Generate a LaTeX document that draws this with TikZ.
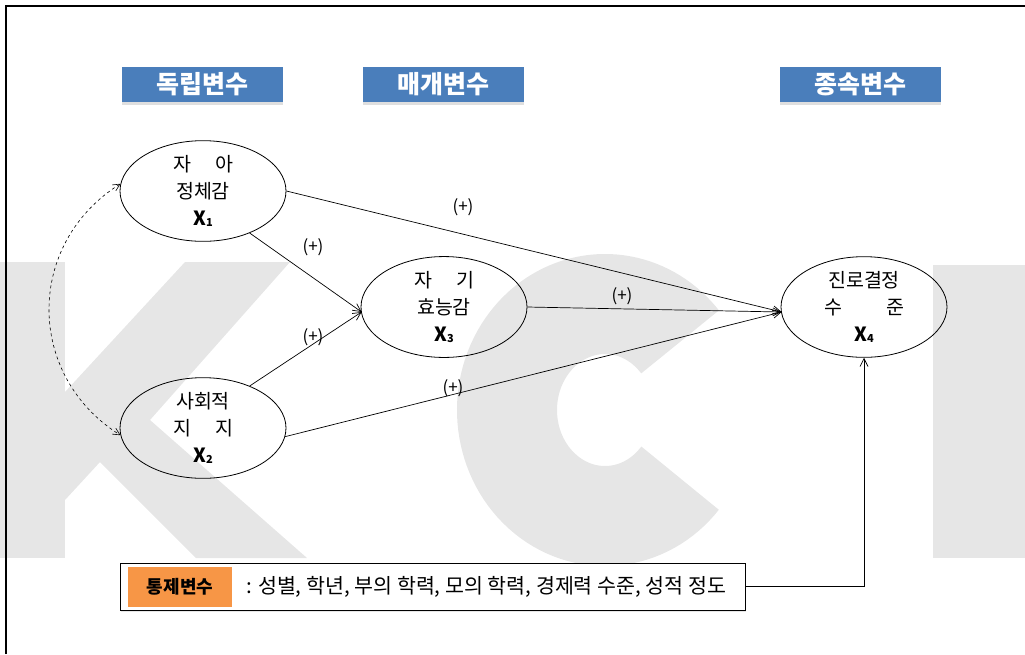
\documentclass[tikz,border=0pt]{standalone}
\usepackage{fontspec}
\setmainfont{Noto Sans CJK KR}
\usetikzlibrary{shapes.geometric,arrows.meta,shadows}
\definecolor{hdrblue}{RGB}{74,126,187}
\definecolor{ctrlorange}{RGB}{247,150,70}
\definecolor{wmgray}{RGB}{230,230,230}
\newcommand\Xn[1]{\textbf{X}\raisebox{-0.1ex}{\fontsize{11}{11}\selectfont\textbf{#1}}}
\begin{document}
\begin{tikzpicture}[x=1pt,y=-1pt,
  hdr/.style={fill=hdrblue, text=white, font=\bfseries\fontsize{25}{28}\selectfont,
    minimum width=161pt, minimum height=35pt, inner sep=0pt,
    drop shadow={opacity=0.25,shadow xshift=0pt,shadow yshift=-3pt}},
  var/.style={ellipse, draw, line width=0.8pt, minimum width=166pt, minimum height=92pt,
    inner sep=0pt, align=center, font=\fontsize{19.5}{27}\selectfont},
  arr/.style={line width=0.7pt, -{Straight Barb[length=8pt,width=8pt]}},
  sign/.style={font=\fontsize{17}{19}\selectfont, inner sep=1pt}]
\useasboundingbox (0,0) rectangle (1025,654);
% watermark
\begin{scope}
\clip (0,0) rectangle (1025,654);
\fill[wmgray] (-5,262) rectangle (65,558);
\fill[wmgray] (65,392) -- (185,262) -- (290,262) -- (150,420) -- (307,558) -- (196,558) -- (100,462) -- (65,500) -- cycle;
\draw[wmgray, line width=100pt] (605,410) ++(40:98 and 106) arc[start angle=40, end angle=320, x radius=98, y radius=106];
\fill[wmgray] (933,265) rectangle (1030,558);
\end{scope}
% frame
\draw[line width=2pt] (6,654) -- (6,6) -- (1025,6);
% headers
\node[hdr] (h1) at (202.5,84.5) {독립변수};
\node[hdr] (h2) at (443,84.5) {매개변수};
\node[hdr] (h3) at (860,84.5) {종속변수};
% variables
\node[var] (x1) at (203,191) {\makebox[60pt][s]{자\hfill 아}\\정체감\\\Xn{1}};
\node[var] (x2) at (203,428) {사회적\\\makebox[60pt][s]{지\hfill 지}\\\Xn{2}};
\node[var] (x3) at (444,307) {\makebox[60pt][s]{자\hfill 기}\\효능감\\\Xn{3}};
\node[var] (x4) at (864,307) {진로결정\\\makebox[80pt][s]{수\hfill 준}\\\Xn{4}};
\coordinate (x4in) at ([xshift=1pt,yshift=-5pt]x4.west);
\coordinate (x3in) at ([xshift=1pt,yshift=-5pt]x3.west);
% paths
\draw[arr] (x1.east) -- (x4in);
\draw[arr] (x1.-42) -- (x3in);
\draw[arr] (x2.42) -- (x3in);
\draw[arr] (x3.east) -- (x4in);
\draw[arr] (x2.-6) -- (x4in);
\draw[dashed, line width=0.6pt, {Straight Barb[length=7pt,width=7pt]}-{Straight Barb[length=7pt,width=7pt]}]
  (x1.175) .. controls +(-95,60) and +(-95,-60) .. (x2.185);
% signs
\node[sign] (s1) at (463,207) {(+)};
\node[sign] (s2) at (313,247) {(+)};
\node[sign] (s3) at (313,337) {(+)};
\node[sign] (s4) at (622,296) {(+)};
\node[sign] (s5) at (453,388) {(+)};
% control box
\node[draw, fill=white, line width=0.8pt, minimum width=625pt, minimum height=47pt, inner sep=0pt,
  drop shadow={opacity=0.2,shadow xshift=1pt,shadow yshift=-2pt}] (ctrl) at (432.5,586.5) {};
\node[fill=ctrlorange, minimum width=104pt, minimum height=40pt, inner sep=0pt,
  font=\bfseries\fontsize{18}{20}\selectfont] (ctrllab) at (180,587) {통제변수};
\node[anchor=west, inner sep=0pt, font=\fontsize{20.6}{22}\selectfont] (ctrltext) at (246,586.5)
  {: 성별, 학년, 부의 학력, 모의 학력, 경제력 수준, 성적 정도};
\draw[arr] (ctrl.east) -| (x4.south);
\end{tikzpicture}
\end{document}
